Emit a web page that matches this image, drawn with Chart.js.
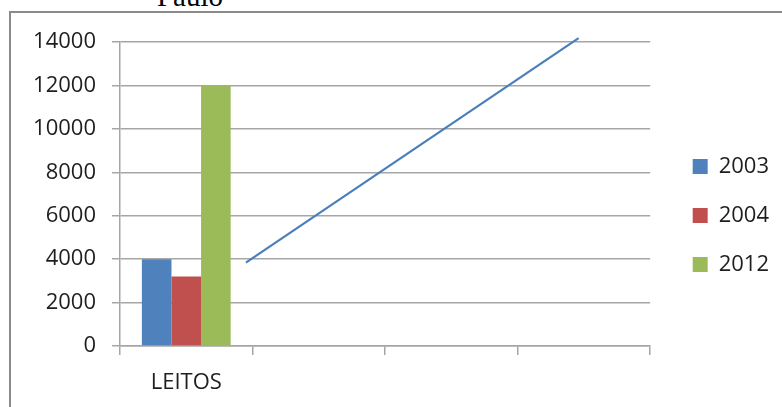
<!DOCTYPE html>
<html>
<head>
<meta charset="utf-8">
<script src="https://cdn.jsdelivr.net/npm/chart.js@4/dist/chart.umd.min.js"></script>
<style>
  html, body { margin: 0; padding: 0; background: #fff; overflow: hidden; }
  #wrap { position: relative; width: 782px; height: 407px; }
  #moldura { position: absolute; left: 9px; top: 11px; width: 900px; height: 500px;
             border-left: 2px solid #8a8a8a; border-top: 2px solid #8a8a8a; }
  #titulo { position: absolute; left: 0; width: 380px; top: -18px; text-align: center;
            font-family: "Liberation Serif", serif; font-size: 29px; line-height: 29px; color: #000; }
  #grafico { position: absolute; left: 0; top: 0; }
</style>
</head>
<body>
<div id="wrap">
  <div id="moldura"></div>
  <div id="titulo">Paulo</div>
  <canvas id="grafico" width="782" height="407"></canvas>
</div>
<script>
  const categorias = ['LEITOS', '', '', ''];
  const anos = ['2003', '2004', '2012'];
  const leitos2003 = [4000, null, null, null];
  const leitos2004 = [3200, null, null, null];
  const leitos2012 = [12000, null, null, null];
  const cores = ['#4f81bd', '#c0504d', '#9bbb59'];
  const ticksY = [0, 2000, 4000, 6000, 8000, 10000, 12000, 14000];
  // linha solta desenhada por cima do gráfico (x em unidades de categoria)
  const linhaX = [0.45, 2.96];
  const linhaY = [3840, 14180];

  const fonte = { family: '"Open Sans", sans-serif', size: 22 };
  const ctx = document.getElementById('grafico').getContext('2d');

  new Chart(ctx, {
    type: 'bar',
    data: {
      labels: categorias,
      datasets: [
        { label: anos[0], data: leitos2003, backgroundColor: cores[0] },
        { label: anos[1], data: leitos2004, backgroundColor: cores[1] },
        { label: anos[2], data: leitos2012, backgroundColor: cores[2] },
        {
          type: 'line',
          label: 'linha',
          parsing: false,
          data: linhaX.map((x, i) => ({ x: x, y: linhaY[i] })),
          borderColor: '#4a7ebb',
          borderWidth: 2.2,
          pointRadius: 0,
          fill: false,
          clip: false
        }
      ]
    },
    options: {
      responsive: false,
      animation: false,
      categoryPercentage: 0.67,
      barPercentage: 1.0,
      layout: { padding: { left: 0, top: 24, right: 3, bottom: 0 } },
      scales: {
        x: {
          grid: { drawOnChartArea: false, color: '#a6a6a6', lineWidth: 1.5, tickLength: 9, offset: true },
          border: { color: '#a6a6a6', width: 1.5 },
          ticks: { color: '#1e1e1e', font: fonte, padding: 15, maxRotation: 0 },
          afterFit: s => { s.height = 61; }
        },
        xTopo: {
          type: 'linear',
          position: 'top',
          grid: { display: false },
          border: { display: false },
          ticks: { display: false },
          afterFit: s => { s.height = 18; }
        },
        y: {
          min: 0,
          max: 14000,
          grid: { color: '#a6a6a6', lineWidth: 1.5, tickLength: 8 },
          border: { color: '#a6a6a6', width: 1.5 },
          ticks: { color: '#1e1e1e', font: fonte, padding: 16, callback: (v, i) => String(ticksY[i]) },
          afterBuildTicks: s => { s.ticks = ticksY.map(v => ({ value: v })); },
          afterFit: s => { s.width = 120; }
        },
        y2: {
          position: 'right',
          grid: { display: false },
          border: { display: false },
          ticks: { display: false },
          afterFit: s => { s.width = 15.5; }
        }
      },
      plugins: {
        legend: {
          position: 'right',
          labels: {
            color: '#1e1e1e',
            font: fonte,
            boxWidth: 15,
            boxHeight: 15,
            padding: 27,
            filter: item => item.datasetIndex < 3
          }
        },
        tooltip: { enabled: false }
      }
    }
  });
</script>
</body>
</html>
